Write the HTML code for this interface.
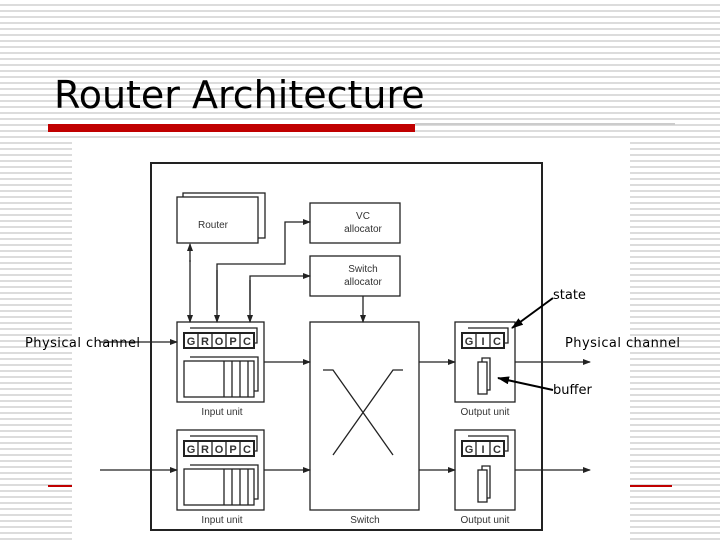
<!DOCTYPE html>
<html><head><style>
body{margin:0;width:720px;height:540px;overflow:hidden;position:relative;font-family:"DejaVu Sans",sans-serif;
background:repeating-linear-gradient(to bottom,#fff 0,#fff 4px,#dcdcdc 4px,#dcdcdc 6px);}
.t{position:absolute;color:#000}
</style></head><body>
<div class="t" style="left:54px;top:72px;font-size:38px;line-height:46px;">Router Architecture</div>
<div style="position:absolute;left:48px;top:124px;width:367px;height:8px;background:#c00000"></div>
<div style="position:absolute;left:415px;top:123px;width:260px;height:2px;background:#ccc"></div>
<div style="position:absolute;left:48px;top:485px;width:624px;height:2px;background:#c00000"></div>
<div style="position:absolute;left:72px;top:142px;width:558px;height:398px;background:#fff"></div>
<svg width="720" height="540" style="position:absolute;left:0;top:0" font-family="Liberation Sans,sans-serif">
<defs><marker id="a" markerWidth="8" markerHeight="6" refX="7" refY="3" orient="auto" markerUnits="userSpaceOnUse"><path d="M0,0L8,3L0,6z" fill="#222"/></marker>
<marker id="b" markerWidth="12" markerHeight="8" refX="11" refY="4" orient="auto" markerUnits="userSpaceOnUse"><path d="M0,0L12,4L0,8z" fill="#000"/></marker></defs>
<g fill="none" stroke="#222" stroke-width="1.3">
<rect x="151" y="163" width="391" height="367" stroke-width="2"/>
<rect x="183" y="193" width="82" height="45"/>
<rect x="177" y="197" width="81" height="46" fill="#fff"/>
<rect x="310" y="203" width="90" height="40"/>
<rect x="310" y="256" width="90" height="40"/>
<rect x="310" y="322" width="109" height="188"/>
<path d="M323,370H333L393,455M403,370H393L333,455"/>
<g id="iu">
<rect x="177" y="322" width="87" height="80"/>
<path d="M190,328H257V343H254"/>
<rect x="184" y="333" width="70" height="15" stroke-width="2"/>
<path d="M198,333V348M212,333V348M226,333V348M240,333V348"/>
<path d="M190,357H258V391H254"/>
<rect x="184" y="361" width="70" height="36"/>
<path d="M224,361V397M232,361V397M240,361V397M248,361V397"/>
</g>
<use href="#iu" y="108"/>
<g id="ou">
<rect x="455" y="322" width="60" height="80"/>
<path d="M468,328H508V343H504"/>
<rect x="462" y="333" width="42" height="15" stroke-width="2"/>
<path d="M476,333V348M490,333V348"/>
<rect x="478" y="362" width="9" height="32"/><path d="M482,362V358H490V390H487"/>
</g>
<use href="#ou" y="108"/>
<g marker-end="url(#a)">
<path d="M100,342H177"/><path d="M100,470H177"/>
<path d="M264,362H310"/><path d="M264,470H310"/>
<path d="M419,362H455"/><path d="M419,470H455"/>
<path d="M515,362H590"/><path d="M515,470H590"/>
<path d="M363,296V322"/>
<path d="M190,260V322"/>
<path d="M190,262V244"/>
<path d="M217,310V264H285V222H310"/>
<path d="M217,270V322"/>
<path d="M250,310V276H310"/>
<path d="M250,280V322"/>
</g>
</g>
<g font-size="10" fill="#333" text-anchor="middle">
<text x="213" y="228">Router</text>
<text x="363" y="219">VC</text><text x="363" y="232">allocator</text>
<text x="363" y="272">Switch</text><text x="363" y="285">allocator</text>
<text x="222" y="415">Input unit</text><text x="222" y="523">Input unit</text>
<text x="485" y="415">Output unit</text><text x="485" y="523">Output unit</text>
<text x="365" y="523">Switch</text>
<g font-size="11" font-weight="bold"><text x="191" y="345">G</text><text x="205" y="345">R</text><text x="219" y="345">O</text><text x="233" y="345">P</text><text x="247" y="345">C</text>
<text x="191" y="453">G</text><text x="205" y="453">R</text><text x="219" y="453">O</text><text x="233" y="453">P</text><text x="247" y="453">C</text>
<text x="469" y="345">G</text><text x="483" y="345">I</text><text x="497" y="345">C</text>
<text x="469" y="453">G</text><text x="483" y="453">I</text><text x="497" y="453">C</text></g>
</g>
<g stroke="#000" stroke-width="2"><line x1="553" y1="298" x2="512" y2="328" marker-end="url(#b)"/><line x1="553" y1="390" x2="498" y2="378" marker-end="url(#b)"/></g>
<g font-size="13" fill="#000" font-family="DejaVu Sans,sans-serif"><text x="553" y="299">state</text><text x="553" y="394">buffer</text>
<text x="25" y="347" textLength="115">Physical channel</text><text x="565" y="347" textLength="115">Physical channel</text></g>
</svg>
</body></html>
